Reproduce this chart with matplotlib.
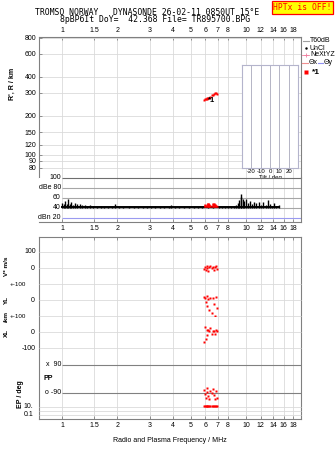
import matplotlib
matplotlib.use('Agg')
import matplotlib.pyplot as plt
from matplotlib.lines import Line2D
from matplotlib.ticker import NullLocator

# ---------------- data ----------------
freq_ticks = [1, 1.5, 2, 3, 4, 5, 6, 7, 8, 10, 12, 14, 16, 18]
freq_labels = ['1', '1.5', '2', '3', '4', '5', '6', '7', '8', '10', '12', '14', '16', '18']
r_ticks = [80, 90, 100, 120, 150, 200, 300, 400, 600, 800]
r_labels = ['80', '90', '100', '120', '150', '200', '300', '400', '600', '800']
tilt_ticks = [-20, -10, 0, 10, 20]

# echoes (*1 group)
echo_f = [5.92, 5.98, 6.05, 6.10, 6.15, 6.20, 6.28, 6.35, 6.55, 6.62, 6.70, 6.78, 6.85, 6.92]
echo_R = [266, 268, 270, 272, 275, 273, 276, 278, 290, 292, 295, 298, 300, 297]
echo_V = [-5, 5, -15, 10, 0, -20, 8, 12, -3, 6, -10, 4, 10, -8]
echo_YL = [20, 10, -15, 25, -40, 5, -60, 15, -80, 10, -25, -100, 20, -50]
echo_XL = [-60, 30, -45, 12, -20, 15, 5, 25, -10, 8, 6, -15, 10, 4]
echo_PP = [-70, -95, -120, -60, -85, -110, -130, -75, -90, -65, -100, -130, -80, -120]
echo_EP = [15, 18, 15, 20, 15, 18, 15, 16, 18, 15, 20, 15, 16, 18]

# amplitude trace (dB)
amp_f = [1.00, 1.02, 1.04, 1.06, 1.08, 1.10, 1.12, 1.15, 1.18, 1.21, 1.25, 1.29, 1.33, 1.37, 1.42,
         1.48, 1.55, 1.62, 1.70, 1.78, 1.86, 1.95, 2.05, 2.15, 2.3, 2.45, 2.6, 2.75, 2.9, 3.05,
         3.2, 3.4, 3.6, 3.8, 3.9, 4.1, 4.3, 4.6, 4.9, 5.2, 5.5, 5.8, 6.2, 6.6, 7.1, 7.4, 7.7,
         8.0, 8.3, 8.6, 8.8, 9.0, 9.2, 9.35, 9.45, 9.6, 9.8, 10.0, 10.2, 10.5, 10.8, 11.1, 11.4,
         11.7, 12.0, 12.4, 12.8, 13.1, 13.5, 13.9, 14.2, 14.6, 15.1]
amp_db = [50, 47, 53, 48, 58, 47, 51, 46, 49, 47, 48, 45, 46, 44, 45,
          43, 42, 43, 42, 42, 44, 47, 42, 41, 43, 41, 42, 41, 42, 41,
          43, 41, 42, 41, 46, 42, 41, 41, 42, 41, 41, 42, 41, 41, 41, 41, 41,
          43, 42, 44, 46, 50, 55, 62, 67, 58, 53, 57, 50, 53, 47, 51, 49,
          51, 45, 51, 46, 55, 47, 44, 49, 43, 45]
amp_floor = 39
red_amp_f = [5.95, 6.02, 6.1, 6.18, 6.25, 6.32, 6.4, 6.55, 6.62, 6.7, 6.78, 6.86, 6.93]
red_amp_db = [44, 48, 46, 49, 50, 47, 45, 43, 49, 50, 48, 45, 43]
dbe_lines = [100, 80, 60, 40]
dbe_labels = ['100', 'dBe 80', '60', '40']
dbn_line = 20

# ---------------- layout ----------------
W, H = 335, 451
plt.rcParams['font.family'] = ['Liberation Sans', 'DejaVu Sans']
fig = plt.figure(figsize=(W / 100, H / 100), dpi=100)
fig.patch.set_facecolor('white')

def rect(x0, y0, x1, y1):
    return [x0 / W, 1 - y1 / H, (x1 - x0) / W, (y1 - y0) / H]

def fx(x):
    return x / W

def fy(y):
    return 1 - y / H

SP = '#808080'
GR = '#dadada'
FS = 5.0
FLIM = (0.75, 19.9)

def setup_x(ax):
    ax.set_xscale('log')
    ax.set_xlim(*FLIM)
    ax.set_xticks(freq_ticks, freq_labels)
    ax.xaxis.set_minor_locator(NullLocator())

# ---- height panel ----
axR = fig.add_axes(rect(39, 37, 301, 178))
setup_x(axR)
axR.xaxis.tick_top()
axR.set_yscale('log')
axR.set_ylim(66.5, 809)
axR.set_yticks(r_ticks, r_labels)
axR.yaxis.set_minor_locator(NullLocator())
axR.tick_params(axis='both', direction='in', length=2.5, width=0.6, color=SP,
                labelsize=FS, pad=2)
axR.grid(True, color=GR, lw=0.6)
for s in ['top', 'left', 'right']:
    axR.spines[s].set_color(SP)
    axR.spines[s].set_linewidth(0.8)
axR.spines['bottom'].set_visible(False)
axR.plot(echo_f, echo_R, 's', color='red', ms=1.9, mec='none')
axR.text(6.2, 262, '*1', fontsize=5.5, fontweight='bold', ha='left', va='center')
fig.text(fx(12), fy(84), "R', R / km", rotation=90, fontsize=5, fontweight='bold',
         ha='center', va='center')

# ---- tilt inset ----
axT = fig.add_axes(rect(242, 65, 298, 168))
axT.set_facecolor('white')
axT.set_xlim(-30, 30)
axT.set_ylim(0, 1)
for t in tilt_ticks:
    axT.axvline(t, color='#a8a8bc', lw=0.6)
axT.set_xticks(tilt_ticks, [str(t) for t in tilt_ticks])
axT.set_yticks([])
axT.tick_params(axis='x', length=0, pad=1, labelsize=4.3)
axT.set_xlabel('Tilt / deg', fontsize=4.3, labelpad=0.3)
for s in axT.spines.values():
    s.set_color('#b4b4cc')
    s.set_linewidth(0.8)

# ---- dBe panel ----
axD = fig.add_axes(rect(39, 177.5, 301, 222))
setup_x(axD)
axD.set_ylim(10.9, 101)
axD.set_yticks([])
axD.tick_params(axis='x', direction='in', length=2.5, width=0.6, color=SP,
                labelsize=FS, pad=2)
axD.grid(True, axis='x', color=GR, lw=0.6)
axD.spines['top'].set_visible(False)
axD.spines['left'].set_visible(False)
for s in ['bottom', 'right']:
    axD.spines[s].set_color(SP)
    axD.spines[s].set_linewidth(0.8)
for v, lab in zip(dbe_lines, dbe_labels):
    axD.hlines(v, 1.0, FLIM[1], color='#6e6e6e' if v == 100 else '#a6a6a6', lw=0.8,
               clip_on=False)
    axD.text(0.985, v, lab, ha='right', va='center', fontsize=FS)
axD.hlines(dbn_line, 1.0, FLIM[1], color='#9a9af0', lw=0.8)
axD.text(0.985, dbn_line, 'dBn 20', ha='right', va='center', fontsize=FS)
axD.vlines(amp_f, amp_floor, amp_db, color='black', lw=1.0)
axD.plot(amp_f, [41] * len(amp_f), color='black', lw=1.4)
axD.vlines(red_amp_f, amp_floor + 2, red_amp_db, color='red', lw=1.8)

# ---- lower panel frame ----
axL = fig.add_axes(rect(39, 237, 301, 419))
setup_x(axL)
axL.set_ylim(0, 1)
axL.set_yticks([])
axL.tick_params(axis='x', which='both', direction='in', length=2.5, width=0.6, color=SP,
                labelsize=FS, pad=2, top=True)
axL.grid(True, axis='x', color=GR, lw=0.6)
for s in axL.spines.values():
    s.set_color(SP)
    s.set_linewidth(0.8)
axL.set_xlabel('Radio and Plasma Frequency / MHz', fontsize=5, labelpad=6)

def sub(y0, y1, lo, hi, log=False):
    a = fig.add_axes(rect(39, y0, 301, y1))
    a.set_xscale('log')
    a.set_xlim(*FLIM)
    if log:
        a.set_yscale('log')
    a.set_ylim(lo, hi)
    a.set_axis_off()
    a.patch.set_alpha(0)
    return a

axV = sub(237, 284, -100, 194)
axY = sub(284, 316, -100, 100)
axX = sub(316, 358, -162.5, 100)
axP = sub(358, 402, -147.9, 135)
axE = sub(402, 419, 0.01, 177.8, log=True)

for a, vals in [(axV, [100, 0, -100]), (axY, [0, -100]), (axX, [0, -100]), (axE, [10, 1, 0.1])]:
    for v in vals:
        a.hlines(v, FLIM[0], FLIM[1], color=GR, lw=0.6, clip_on=False)
for v in [90, -90]:
    axP.hlines(v, 1.0, FLIM[1], color='#808080', lw=0.8)

ms = 1.9
axV.plot(echo_f, echo_V, 's', color='red', ms=ms, mec='none')
axY.plot(echo_f, echo_YL, 's', color='red', ms=ms, mec='none')
axX.plot(echo_f, echo_XL, 's', color='red', ms=ms, mec='none')
axP.plot(echo_f, echo_PP, 's', color='red', ms=ms, mec='none')
axE.plot(echo_f, echo_EP, 's', color='red', ms=ms, mec='none')

# lower panel labels
def lab(x, y, s, ha='right', size=FS, **kw):
    fig.text(fx(x), fy(y), s, ha=ha, va='center', fontsize=size, **kw)

lab(36, 252, '100')
lab(35, 268, '0')
lab(26, 284, '+-100', size=4.5)
lab(35, 300, '0')
lab(26, 316, '+-100', size=4.5)
lab(35, 332, '0')
lab(36, 348, '-100')
lab(61, 365, 'x  90')
lab(61, 393, 'o -90')
lab(33, 407, '10.')
lab(33, 415, '0.1')
lab(43, 378, 'PP', ha='left', fontweight='bold')
for y, s in [(266, 'V* m/s'), (300, 'YL'), (317, '/km'), (333, 'XL')]:
    fig.text(fx(6), fy(y), s, rotation=90, ha='center', va='center', fontsize=4.6,
             fontweight='bold')
fig.text(fx(21), fy(394), 'EP / deg', rotation=90, ha='center', va='center', fontsize=5,
         fontweight='bold')

# ---- legend at right ----
def fline(x0, x1, y, **kw):
    fig.add_artist(Line2D([fx(x0), fx(x1)], [fy(y), fy(y)], **kw))

fline(303, 309, 41, color='#a0a0a0', lw=0.8)
fig.text(fx(310), fy(41), 'T60dB', fontsize=FS, va='center')
fig.add_artist(Line2D([fx(306)], [fy(48)], marker='.', ms=1.5, color='black'))
fig.text(fx(310), fy(48), 'UnCl', fontsize=FS, va='center')
fline(302, 309, 55, color='#f080a0', lw=0.6)
fig.add_artist(Line2D([fx(306)], [fy(55)], marker='+', ms=3.5, color='#f080a0', mew=0.6))
fig.text(fx(310), fy(55), 'NeXtYZ', fontsize=FS, va='center')
fline(302, 308, 63, color='#f09090', lw=0.8)
fig.text(fx(308.5), fy(63), 'Θx', fontsize=FS, va='center')
fline(318, 323, 63, color='#9090f0', lw=0.8)
fig.text(fx(323.5), fy(63), 'Θy', fontsize=FS, va='center')
fig.add_artist(Line2D([fx(306)], [fy(72)], marker='s', ms=2.2, color='red', mec='none'))
fig.text(fx(312), fy(72), '*1', fontsize=6, fontweight='bold', va='center')

# ---- titles ----
fig.text(fx(35), fy(12.5), 'TROMSO NORWAY   DYNASONDE 26-02-11 0850UT 15°E',
         family='DejaVu Sans Mono', fontsize=5.9, va='center', ha='left')
fig.text(fx(60), fy(20), '8pBP6It DoY=  42.368 File= TR895700.BPG',
         family='DejaVu Sans Mono', fontsize=5.9, va='center', ha='left')
fig.text(fx(302.5), fy(7.5), 'HPTx is OFF!', family='DejaVu Sans Mono', fontsize=5.8,
         color='red', ha='center', va='center',
         bbox=dict(boxstyle='square,pad=0.2', fc='yellow', ec='red', lw=0.9))

fig.savefig('out.png', dpi=100)
